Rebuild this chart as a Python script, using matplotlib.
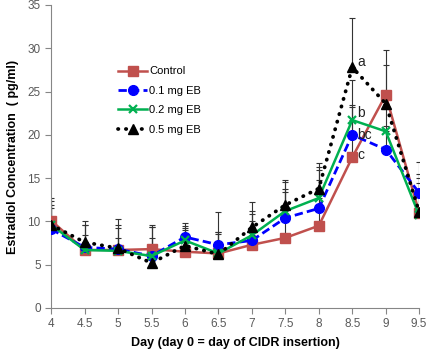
import matplotlib.pyplot as plt
import numpy as np

days = [4, 4.5, 5, 5.5, 6, 6.5, 7, 7.5, 8, 8.5, 9, 9.5]

control = [10.1, 6.7, 6.7, 6.8, 6.5, 6.3, 7.3, 8.1, 9.5, 17.4, 24.6, 11.0]
eb01 = [9.1, 7.0, 6.8, 6.0, 8.2, 7.3, 7.8, 10.4, 11.5, 20.0, 18.3, 13.3]
eb02 = [9.6, 6.7, 6.6, 6.0, 7.8, 6.3, 8.4, 11.2, 12.7, 21.7, 20.4, 10.7]
eb05 = [9.6, 7.6, 6.9, 5.2, 7.2, 6.2, 9.3, 11.9, 13.8, 27.8, 23.6, 11.1]

# upper end of each error bar (mean + SE)
control_top = [12.3, 8.4, 8.1, 8.1, 9.0, 8.5, 10.0, 13.4, 14.8, 23.2, 29.8, 14.4]
eb01_top = [11.9, 9.6, 9.2, 9.3, 9.8, 8.8, 10.8, 13.8, 15.9, 23.4, 21.0, 16.9]
eb02_top = [11.5, 9.6, 9.6, 9.3, 9.5, 8.8, 11.2, 14.5, 16.3, 26.3, 23.0, 15.0]
eb05_top = [12.7, 10.0, 10.3, 9.6, 9.2, 11.1, 12.2, 14.8, 16.7, 33.5, 28.1, 15.5]

letters = ["a", "b", "bc", "c"]
letter_y = [28.4, 22.5, 20.0, 17.7]

plt.rcParams["font.family"] = ["Liberation Sans", "DejaVu Sans"]

fig = plt.figure(figsize=(4.26, 3.52), dpi=100)
ax = fig.add_axes([0.12, 0.125, 0.864, 0.861])

series = [
    (control, control_top, "Control", dict(color="#C0504D", ls="-", marker="s", ms=7, lw=1.8)),
    (eb01, eb01_top, "0.1 mg EB", dict(color="#0000FF", ls=(0, (3, 1.5)), marker="o", ms=7, lw=2.0)),
    (eb02, eb02_top, "0.2 mg EB", dict(color="#00B050", ls="-", marker="x", ms=6, mew=1.6, lw=1.8)),
    (eb05, eb05_top, "0.5 mg EB", dict(color="black", ls=(0, (0.1, 2.0)), marker="^", ms=7, lw=2.7,
                                       dash_capstyle="round")),
]

for vals, tops, label, style in series:
    v = np.array(vals)
    err = np.array(tops) - v
    ax.errorbar(days, v, yerr=[np.zeros_like(err), err], fmt="none",
                ecolor="#333333", elinewidth=0.8, capsize=2.5, capthick=0.8, zorder=1)
for vals, tops, label, style in series:
    ax.plot(days, vals, label=label, zorder=3, **style)

for lt, ly in zip(letters, letter_y):
    ax.text(8.58, ly, lt, fontsize=10, ha="left", va="center", color="#222222")

ax.set_xlim(4, 9.5)
ax.set_ylim(0, 35)
ax.set_xticks(days)
ax.set_xticklabels([f"{d:g}" for d in days])
ax.set_yticks(range(0, 36, 5))
for s in ["top", "right"]:
    ax.spines[s].set_visible(False)
for s in ["left", "bottom"]:
    ax.spines[s].set_color("#868686")
ax.tick_params(direction="out", length=4, color="#868686", labelcolor="#595959", labelsize=8.5)

ax.set_xlabel("Day (day 0 = day of CIDR insertion)", fontsize=9, fontweight="bold", labelpad=5)
ax.set_ylabel("Estradiol Concentration  ( pg/ml)", fontsize=9, fontweight="bold", labelpad=6)

ax.legend(loc="upper left", bbox_to_anchor=(0.155, 0.83), frameon=False, fontsize=8,
          handlelength=2.6, labelspacing=0.85, handletextpad=0.2)

fig.savefig("out.png", dpi=100)
